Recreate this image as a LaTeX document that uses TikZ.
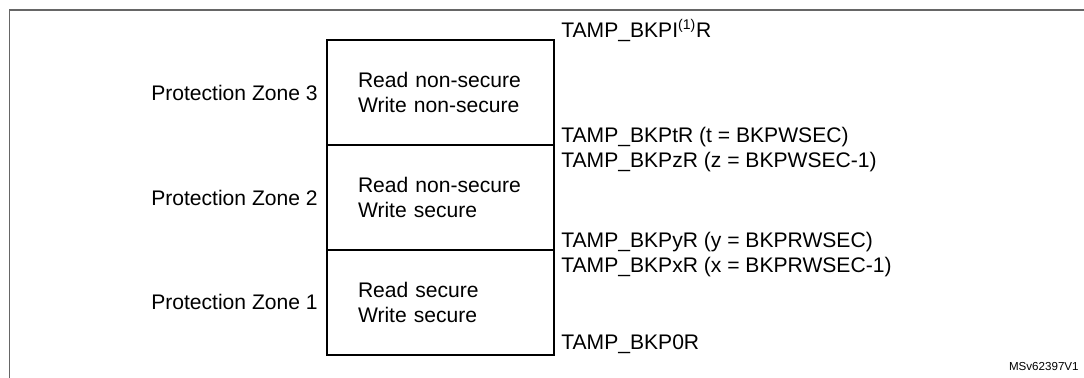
\documentclass[tikz,border=0pt]{standalone}
\usepackage{fontspec}
\setmainfont{Liberation Sans}
\usetikzlibrary{positioning}

\definecolor{framegray}{RGB}{102,102,102}

\tikzset{
  zone/.style={draw, line width=1pt, outer sep=0pt,
    text width=3.3cm, inner xsep=0.62cm, minimum height=2.1cm,
    align=left, font=\fontsize{12}{14}\selectfont},
  zonename/.style={inner sep=0pt, font=\fontsize{12}{14}\selectfont},
  regname/.style={inner sep=0pt, anchor=base west, font=\fontsize{12}{14}\selectfont},
}

\begin{document}
\begin{tikzpicture}[x=0.02cm, y=-0.02cm]
  \useasboundingbox (0,0) rectangle (1084,378);

  % Frame
  \coordinate (fbl) at (9.5,378);
  \coordinate (ftl) at (9.5,10);
  \coordinate (ftr) at (1084,10);
  \draw[framegray, line width=1.1pt] (fbl) -- (ftl) -- (ftr);

  % Protection zones
  \node[zone] (z3) at (440.5,92.5) {Read non-secure\\Write non-secure};
  \node[zone, below=0pt of z3] (z2) {Read non-secure\\Write secure};
  \node[zone, below=0pt of z2] (z1) {Read secure\\Write secure};

  % Zone names
  \node[zonename, left=0.18cm of z3] (n3) {Protection Zone 3};
  \node[zonename, left=0.18cm of z2] (n2) {Protection Zone 2};
  \node[zonename, left=0.18cm of z1] (n1) {Protection Zone 1};

  % Registers
  \node[regname] (bkpi) at ([shift={(0.14cm,0.05cm)}]z3.north east) {TAMP\_BKPI\textsuperscript{(1)}R};
  \node[regname] (bkpt) at ([shift={(0.14cm,0.05cm)}]z2.north east) {TAMP\_BKPtR (t = BKPWSEC)};
  \node[regname] (bkpz) at ([shift={(0.14cm,-0.45cm)}]z2.north east) {TAMP\_BKPzR (z = BKPWSEC-1)};
  \node[regname] (bkpy) at ([shift={(0.14cm,0.05cm)}]z1.north east) {TAMP\_BKPyR (y = BKPRWSEC)};
  \node[regname] (bkpx) at ([shift={(0.14cm,-0.45cm)}]z1.north east) {TAMP\_BKPxR (x = BKPRWSEC-1)};
  \node[regname] (bkp0) at ([shift={(0.14cm,0.1cm)}]z1.south east) {TAMP\_BKP0R};

  % Figure id
  \node[inner sep=0pt, anchor=base east, font=\fontsize{6.6}{7.5}\selectfont] (figid) at (1079,370) {MSv62397V1};

\end{tikzpicture}
\end{document}
